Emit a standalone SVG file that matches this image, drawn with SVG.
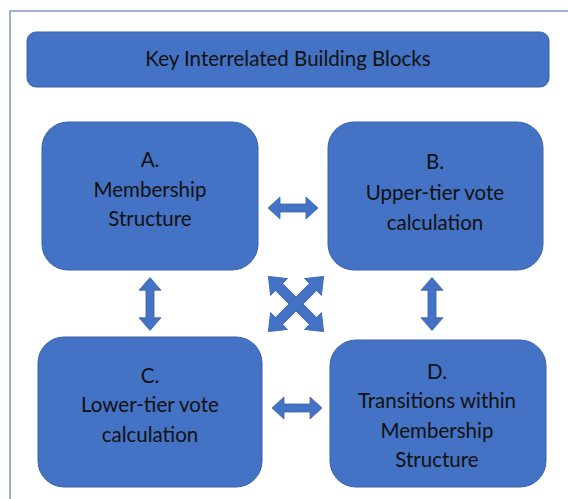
<svg xmlns="http://www.w3.org/2000/svg" xmlns:xlink="http://www.w3.org/1999/xlink" width="568" height="499" viewBox="0 0 568 499">
<style>
.box{fill:#4472C4;stroke:#3A62A8;stroke-width:1}
.t{font-family:Lato,"Open Sans","Liberation Sans",sans-serif;font-size:20.5px;fill:#111;text-anchor:middle}
.arr{fill:#4472C4;stroke:#3A62A8;stroke-width:0.8}
</style>
<defs>
<polygon id="dbl" points="-25,0 -13,-11 -13,-4 13,-4 13,-11 25,0 13,11 13,4 -13,4 -13,11"/>
<polygon id="xdbl" points="-39,0 -24,-12 -24,-5 24,-5 24,-12 39,0 24,12 24,5 -24,5 -24,12"/>
</defs>
<rect width="568" height="499" fill="#fff"/>
<path d="M10,499 V11 H568" fill="none" stroke="#8096C2" stroke-width="1.5"/>
<g id="title">
<rect class="box" x="27" y="32" width="522" height="55" rx="9"/>
<text class="t" x="288" y="66">Key Interrelated Building Blocks</text>
</g>
<g id="nodeA">
<rect class="box" x="42" y="122" width="216" height="148" rx="26"/>
<text class="t" x="150" y="167">A.</text>
<text class="t" x="150" y="197">Membership</text>
<text class="t" x="150" y="226">Structure</text>
</g>
<g id="nodeB">
<rect class="box" x="328" y="122" width="215" height="148" rx="26"/>
<text class="t" x="435" y="169">B.</text>
<text class="t" x="435" y="200">Upper-tier vote</text>
<text class="t" x="435" y="230">calculation</text>
</g>
<g id="nodeC">
<rect class="box" x="38" y="337" width="224" height="150" rx="26"/>
<text class="t" x="150" y="383">C.</text>
<text class="t" x="150" y="412">Lower-tier vote</text>
<text class="t" x="150" y="442">calculation</text>
</g>
<g id="nodeD">
<rect class="box" x="330" y="340" width="216" height="147" rx="26"/>
<text class="t" x="437" y="379">D.</text>
<text class="t" x="437" y="408">Transitions within</text>
<text class="t" x="437" y="438">Membership</text>
<text class="t" x="437" y="467">Structure</text>
</g>
<g id="connectors" class="arr">
<use xlink:href="#dbl" transform="translate(293,208)"/>
<use xlink:href="#dbl" transform="translate(297,408)"/>
<use xlink:href="#dbl" transform="translate(150,304) rotate(90) scale(1.06,1)"/>
<use xlink:href="#dbl" transform="translate(432,304) rotate(90) scale(1.06,1)"/>
<use xlink:href="#xdbl" transform="translate(296,304) rotate(45)"/>
<use xlink:href="#xdbl" transform="translate(296,304) rotate(-45)"/>
</g>
</svg>
